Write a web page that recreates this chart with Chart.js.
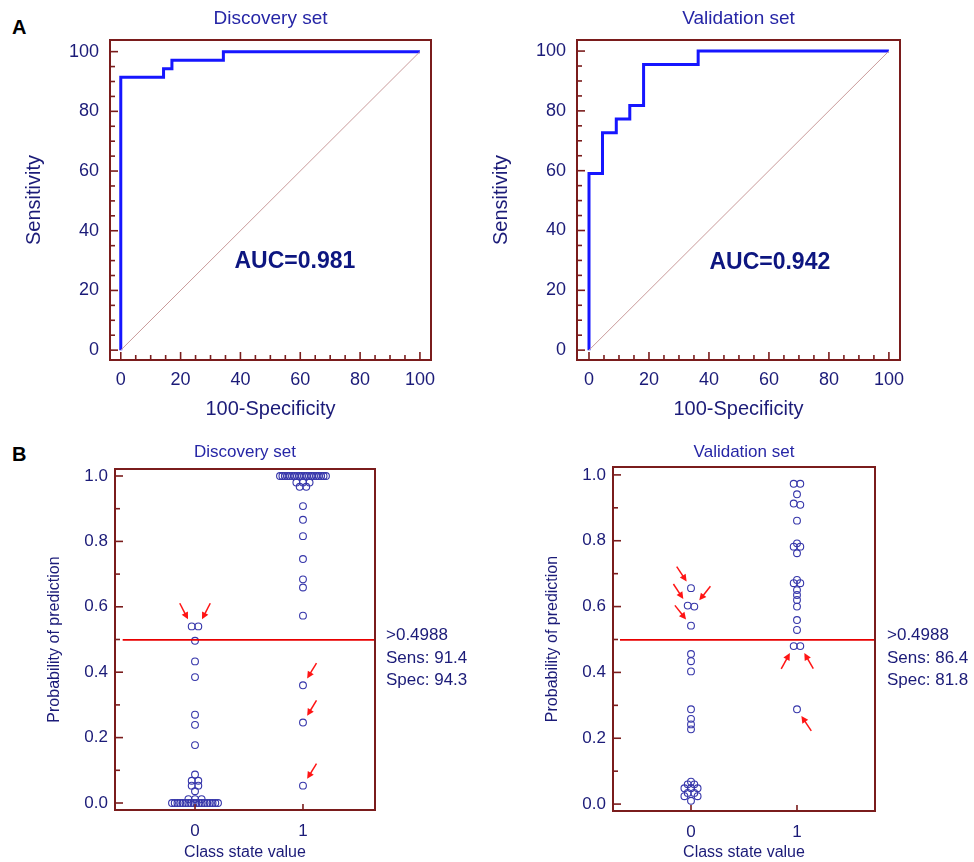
<!DOCTYPE html>
<html>
<head>
<meta charset="utf-8">
<script src="https://cdn.jsdelivr.net/npm/chart.js@4.4.1/dist/chart.umd.min.js"></script>
<style>
  body { margin: 0; background: #fff; width: 974px; height: 862px; position: relative; overflow: hidden;
         font-family: 'Liberation Sans', Arial, sans-serif; }
  canvas { position: absolute; }
  .panel { position: absolute; font-weight: bold; font-size: 20px; color: #000; }
</style>
</head>
<body>
<div class="panel" style="left:12px;top:16px">A</div>
<div class="panel" style="left:12px;top:443px">B</div>
<canvas id="rocDisc" width="487" height="430" style="left:0;top:0"></canvas>
<canvas id="rocVal" width="487" height="430" style="left:487px;top:0"></canvas>
<canvas id="dotDisc" width="487" height="432" style="left:0;top:430px"></canvas>
<canvas id="dotVal" width="487" height="432" style="left:487px;top:430px"></canvas>
<script>
// ---- ROC curves (corner points of the step curve) ----
const rocDiscFpr  = [0, 0, 14.3, 14.3, 17.1, 17.1, 34.3, 34.3, 100];
const rocDiscSens = [0, 91.4, 91.4, 94.3, 94.3, 97.1, 97.1, 100, 100];
const rocValFpr   = [0, 0, 4.5, 4.5, 9.1, 9.1, 13.6, 13.6, 18.2, 18.2, 36.4, 36.4, 100];
const rocValSens  = [0, 59.1, 59.1, 72.7, 72.7, 77.3, 77.3, 81.8, 81.8, 95.5, 95.5, 100, 100];
const chanceLine  = [0, 100];
const rocMajor = [0, 20, 40, 60, 80, 100];
const rocMinor = [5, 10, 15, 25, 30, 35, 45, 50, 55, 65, 70, 75, 85, 90, 95];
const aucDisc = 'AUC=0.981';
const aucVal  = 'AUC=0.942';

// ---- predicted probabilities per class ----
const discClass0 = [0.540, 0.540, 0.496, 0.433, 0.385, 0.270, 0.239, 0.177, 0.087, 0.068, 0.068,
  0.053, 0.053, 0.036, 0.012, 0.012, 0.012,
  0, 0, 0, 0, 0, 0, 0, 0, 0, 0, 0, 0, 0, 0, 0, 0, 0, 0];
const discClass1 = [1, 1, 1, 1, 1, 1, 1, 1, 1, 1, 1, 1, 1, 1, 1, 1, 1, 1, 1, 1,
  0.980, 0.980, 0.980, 0.967, 0.967, 0.908, 0.866, 0.816, 0.746, 0.684, 0.659, 0.573,
  0.360, 0.246, 0.053];
const valClass0 = [0.656, 0.603, 0.600, 0.542, 0.456, 0.434, 0.403, 0.288, 0.259, 0.242, 0.227,
  0.068, 0.060, 0.060, 0.048, 0.048, 0.048, 0.034, 0.034, 0.024, 0.024, 0.010];
const valClass1 = [0.973, 0.973, 0.941, 0.913, 0.909, 0.861, 0.792, 0.782, 0.782, 0.762, 0.681,
  0.671, 0.671, 0.650, 0.635, 0.620, 0.600, 0.559, 0.529, 0.480, 0.480, 0.288];
const classTicks = [0, 1];
const probMinor = [0.1, 0.3, 0.5, 0.7, 0.9];
const cutoff = 0.4988;
const cutLineX = [-0.67, 1.74];
const discStats = ['>0.4988', 'Sens: 91.4', 'Spec: 94.3'];
const valStats  = ['>0.4988', 'Sens: 86.4', 'Spec: 81.8'];

// red arrows: class, value of the pointed dot, which dot of a pair, direction (tail side)
const discArrows = [
  { cls: 0, v: 0.540, side: -1, dir: [-0.46, -0.89] },
  { cls: 0, v: 0.540, side: 1, dir: [0.46, -0.89] },
  { cls: 1, v: 0.360, side: 1, dir: [0.52, -0.85] },
  { cls: 1, v: 0.246, side: 1, dir: [0.52, -0.85] },
  { cls: 1, v: 0.053, side: 1, dir: [0.52, -0.85] }
];
const valArrows = [
  { cls: 0, v: 0.656, side: -1, dir: [-0.55, -0.83] },
  { cls: 0, v: 0.600, side: -1, dir: [-0.55, -0.83] },
  { cls: 0, v: 0.600, side: 1, dir: [0.62, -0.78] },
  { cls: 0, v: 0.542, side: -1, dir: [-0.62, -0.78] },
  { cls: 1, v: 0.480, side: -1, dir: [-0.48, 0.88] },
  { cls: 1, v: 0.480, side: 1, dir: [0.5, 0.87] },
  { cls: 1, v: 0.288, side: 1, dir: [0.55, 0.83] }
];

const NAVY = '#1b1b78';
const TITLE_BLUE = '#2626a6';
const FRAME = '#7a1c1c';
const FONT = "'Liberation Sans', Arial, sans-serif";
Chart.defaults.font.family = FONT;

const pts = (xs, ys) => xs.map((x, i) => ({ x, y: ys[i] }));

// frame, inward tick marks, annotations
const deco = {
  id: 'deco',
  afterDatasetsDraw(chart, args, o) {
    const { ctx, chartArea: a, scales: { x, y } } = chart;
    ctx.save();

    // arrows
    ctx.strokeStyle = '#ff1414';
    ctx.fillStyle = '#ff1414';
    ctx.lineWidth = 1.5;
    (o.arrows || []).forEach(ar => {
      const ds = chart.data.datasets[ar.cls + 1].data;
      const meta = chart.getDatasetMeta(ar.cls + 1);
      let best = -1;
      ds.forEach((p, i) => {
        if (Math.abs(p.y - ar.v) > 0.006) return;
        if (best < 0 || (ar.side < 0 ? p.x < ds[best].x : p.x > ds[best].x)) best = i;
      });
      if (best < 0) return;
      const el = meta.data[best];
      const [dx, dy] = ar.dir;
      const tx = el.x + dx * 8, ty = el.y + dy * 8;
      const sx = el.x + dx * 26, sy = el.y + dy * 26;
      ctx.beginPath();
      ctx.moveTo(sx, sy);
      ctx.lineTo(el.x + dx * 13, el.y + dy * 13);
      ctx.stroke();
      ctx.beginPath();
      ctx.moveTo(tx, ty);
      ctx.lineTo(tx + dx * 7 - dy * 3.5, ty + dy * 7 + dx * 3.5);
      ctx.lineTo(tx + dx * 7 + dy * 3.5, ty + dy * 7 - dx * 3.5);
      ctx.closePath();
      ctx.fill();
    });

    // frame
    ctx.strokeStyle = FRAME;
    ctx.lineWidth = 2;
    ctx.strokeRect(a.left, a.top, a.right - a.left, a.bottom - a.top);
    ctx.lineWidth = 1.6;
    const vline = (px, len) => { ctx.beginPath(); ctx.moveTo(px, a.bottom); ctx.lineTo(px, a.bottom - len); ctx.stroke(); };
    const hline = (py, len) => { ctx.beginPath(); ctx.moveTo(a.left, py); ctx.lineTo(a.left + len, py); ctx.stroke(); };
    x.ticks.forEach(t => vline(x.getPixelForValue(t.value), o.xMajorLen));
    (o.minorX || []).forEach(v => vline(x.getPixelForValue(v), 5));
    y.ticks.forEach(t => hline(y.getPixelForValue(t.value), 8));
    (o.minorY || []).forEach(v => hline(y.getPixelForValue(v), 5));

    // AUC label
    if (o.auc) {
      ctx.font = 'bold 23px ' + FONT;
      ctx.fillStyle = '#0d1680';
      ctx.textAlign = 'center';
      ctx.textBaseline = 'middle';
      ctx.fillText(o.auc, x.getPixelForValue(o.aucAt[0]), y.getPixelForValue(o.aucAt[1]));
    }
    // cut-off statistics
    if (o.stats) {
      ctx.font = '17px ' + FONT;
      ctx.fillStyle = NAVY;
      ctx.textAlign = 'left';
      ctx.textBaseline = 'middle';
      const py = y.getPixelForValue(o.cut);
      o.stats.forEach((s, i) => ctx.fillText(s, a.right + o.textGap, py - 4.5 + i * 22.5));
    }
    ctx.restore();
  }
};

function axisX(min, max, step, height, size, pad, title, titleSize, fmt) {
  return {
    type: 'linear', min, max,
    afterFit: s => { s.height = height; },
    grid: { display: false, drawTicks: false },
    border: { display: false },
    ticks: { stepSize: step, includeBounds: false, autoSkip: false, maxRotation: 0,
             color: NAVY, font: { size }, padding: pad, callback: fmt },
    title: { display: true, text: title, color: NAVY, font: { size: titleSize }, padding: 0 }
  };
}
function axisY(min, max, step, width, size, pad, title, titleSize, fmt) {
  return {
    type: 'linear', min, max,
    afterFit: s => { s.width = width; },
    grid: { display: false, drawTicks: false },
    border: { display: false },
    ticks: { stepSize: step, includeBounds: false, autoSkip: false,
             color: NAVY, font: { size }, padding: pad, callback: fmt },
    title: { display: true, text: title, color: NAVY, font: { size: titleSize }, padding: 0 }
  };
}

function rocChart(id, title, fpr, sens, auc, g) {
  return new Chart(document.getElementById(id), {
    type: 'scatter',
    data: {
      datasets: [
        { data: pts(chanceLine, chanceLine), showLine: true, borderColor: '#c99a9a', borderWidth: 1, pointRadius: 0 },
        { data: pts(fpr, sens), showLine: true, borderColor: '#1616ff', borderWidth: 3, pointRadius: 0 }
      ]
    },
    options: {
      responsive: false, animation: false, events: [],
      layout: { padding: g.pad },
      plugins: {
        legend: { display: false }, tooltip: { enabled: false },
        title: { display: true, text: title, color: TITLE_BLUE, font: { size: 19, weight: 'normal' },
                 fullSize: false, padding: { top: 7, bottom: 10.2 } },
        deco: { minorX: rocMinor, minorY: rocMinor, xMajorLen: 8, auc, aucAt: g.aucAt }
      },
      scales: {
        x: axisX(g.x[0], g.x[1], 20, 61, 18, 9, '100-Specificity', 20, v => rocMajor.includes(v) ? String(v) : ''),
        y: axisY(g.y[0], g.y[1], 20, 88, 18, 11, 'Sensitivity', 20, v => rocMajor.includes(v) ? String(v) : '')
      }
    },
    plugins: [deco]
  });
}

// place dots of one class side by side where values are close (pixel units)
function swarmOffsets(vals, pxY) {
  const order = vals.map((v, i) => i).sort((a, b) => vals[b] - vals[a]);
  const rows = [];
  order.forEach(i => {
    const last = rows[rows.length - 1];
    if (last && Math.abs(vals[last[0]] - vals[i]) * pxY < 1.5) last.push(i);
    else rows.push([i]);
  });
  const off = vals.map(() => 0);
  const placed = [];
  const D = 6.6, GAP = 3.6;
  rows.forEach(row => {
    const n = row.length;
    if (n >= 5) { // long runs of equal values are squeezed together
      const sp = 46 / (n - 1);
      row.forEach((i, k) => { off[i] = (k - (n - 1) / 2) * sp; });
      return;
    }
    const tries = [[D, 0], [2 * D, 0], [D, D / 2], [D, -D / 2], [D, D], [D, -D], [D, 1.5 * D], [D, -1.5 * D], [D, 2 * D], [D, -2 * D]];
    for (const [sp, sh] of tries) {
      const xs = row.map((i, k) => (k - (n - 1) / 2) * sp + sh);
      const ok = row.every((i, k) => placed.every(p => Math.hypot(p.x - xs[k], (p.y - vals[i]) * pxY) >= GAP));
      if (ok) { row.forEach((i, k) => { off[i] = xs[k]; }); break; }
    }
    row.forEach(i => placed.push({ x: off[i], y: vals[i] }));
  });
  return off;
}

function dotChart(id, title, c0, c1, stats, arrows, g) {
  const dot = { showLine: false, pointRadius: 3.4, borderWidth: 1.1, borderColor: '#3636aa',
                backgroundColor: 'rgba(0,0,0,0)', pointStyle: 'circle' };
  const chart = new Chart(document.getElementById(id), {
    type: 'scatter',
    data: {
      datasets: [
        { data: pts(cutLineX, [cutoff, cutoff]), showLine: true, borderColor: '#e80000', borderWidth: 1.6, pointRadius: 0 },
        Object.assign({ data: c0.map(v => ({ x: classTicks[0], y: v })) }, dot),
        Object.assign({ data: c1.map(v => ({ x: classTicks[1], y: v })) }, dot)
      ]
    },
    options: {
      responsive: false, animation: false, events: [],
      layout: { padding: g.pad },
      plugins: {
        legend: { display: false }, tooltip: { enabled: false },
        title: { display: true, text: title, color: TITLE_BLUE, font: { size: 17, weight: 'normal' },
                 fullSize: false, padding: { top: 11.8, bottom: g.titleBottom } },
        deco: { minorY: probMinor, xMajorLen: 6, stats, cut: cutoff, textGap: g.textGap, arrows }
      },
      scales: {
        x: axisX(g.x[0], g.x[1], 1, g.xh, 17, 11, 'Class state value', 16, v => classTicks.includes(v) ? String(v) : ''),
        y: axisY(g.y[0], g.y[1], 0.2, 70, 17, 7, 'Probability of prediction', 16, v => v.toFixed(1))
      }
    },
    plugins: [deco]
  });
  const sx = chart.scales.x, sy = chart.scales.y;
  const pxX = sx.width / (g.x[1] - g.x[0]);
  const pxY = sy.height / (g.y[1] - g.y[0]);
  [c0, c1].forEach((vals, k) => {
    const off = swarmOffsets(vals, pxY);
    chart.data.datasets[k + 1].data = vals.map((v, i) => ({ x: classTicks[k] + off[i] / pxX, y: v }));
  });
  chart.update('none');
  return chart;
}

rocChart('rocDisc', 'Discovery set', rocDiscFpr, rocDiscSens, aucDisc,
  { pad: { left: 22, right: 56, top: 0, bottom: 9 }, x: [-3.6, 103.7], y: [-3.3, 103.9], aucAt: [58.2, 29.7] });
rocChart('rocVal', 'Validation set', rocValFpr, rocValSens, aucVal,
  { pad: { left: 2, right: 74, top: 0, bottom: 9 }, x: [-4, 103.7], y: [-3.3, 103.7], aucAt: [60.3, 29.4] });

dotChart('dotDisc', 'Discovery set', discClass0, discClass1, discStats, discArrows,
  { pad: { left: 45, right: 112, top: 0, bottom: 0 }, titleBottom: 6.8, xh: 52, textGap: 11,
    x: [-0.741, 1.667], y: [-0.0214, 1.0214] });
dotChart('dotVal', 'Validation set', valClass0, valClass1, valStats, valArrows,
  { pad: { left: 56, right: 99, top: 0, bottom: 0 }, titleBottom: 4.8, xh: 51, textGap: 12,
    x: [-0.736, 1.736], y: [-0.021, 1.024] });
</script>
</body>
</html>
